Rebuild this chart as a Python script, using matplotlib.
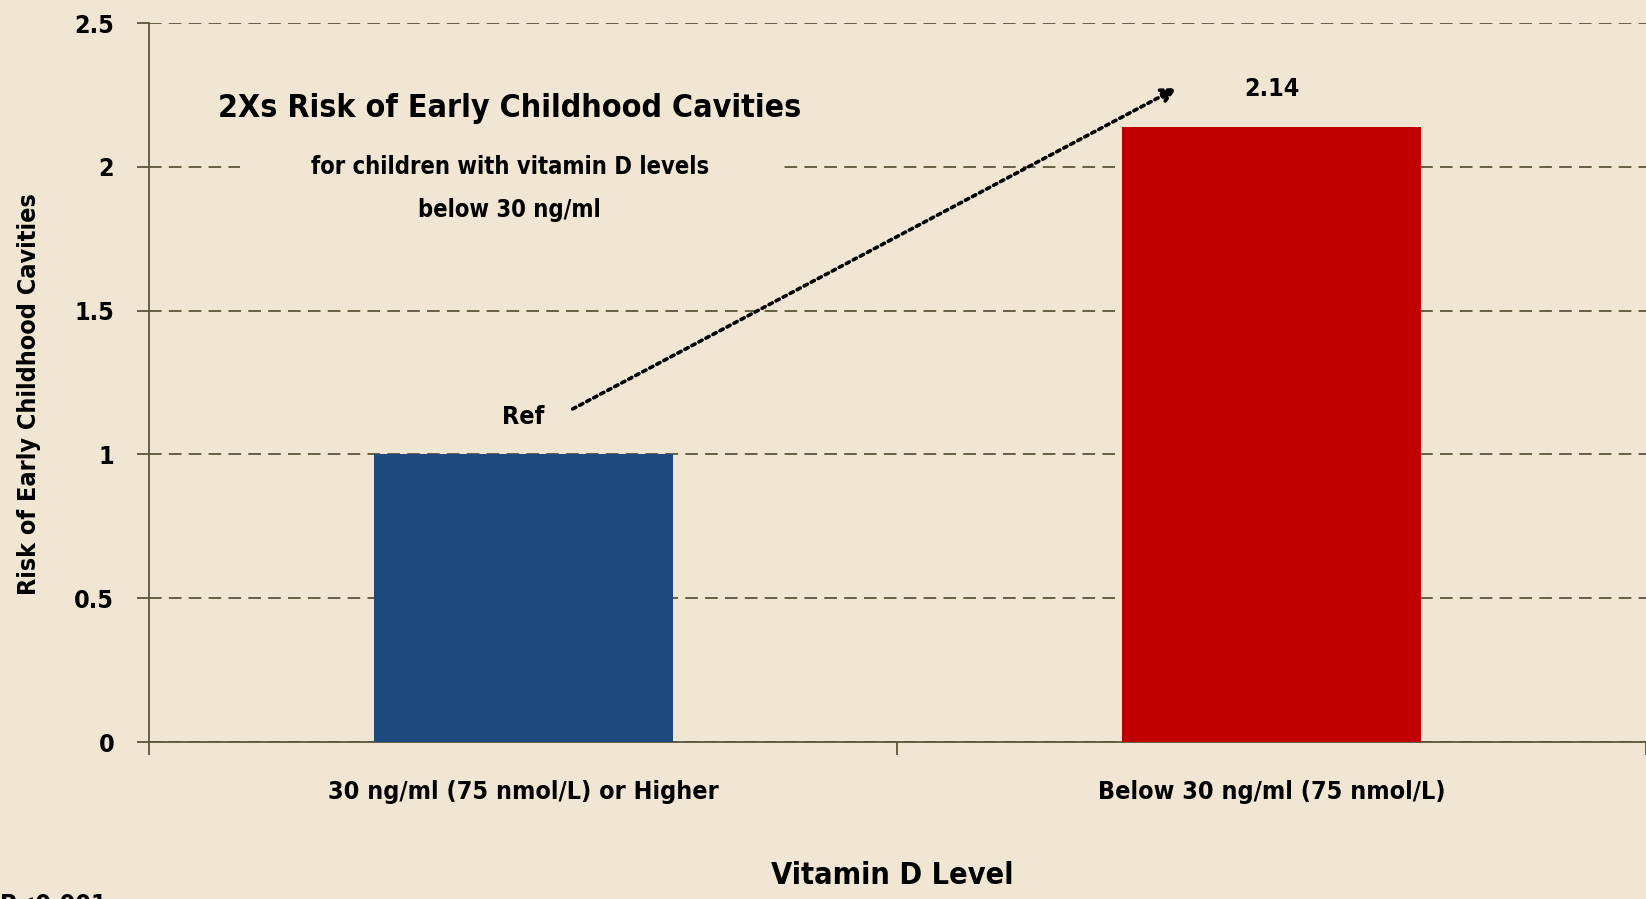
import matplotlib
matplotlib.use("Agg")
import matplotlib.pyplot as plt
from matplotlib import font_manager as fm

# data
categories = ["30 ng/ml (75 nmol/L) or Higher", "Below 30 ng/ml (75 nmol/L)"]
risk = [1.0, 2.14]
bar_labels = ["Ref", "2.14"]
bar_colors = ["#1F497D", "#C00000"]
yticks = [0, 0.5, 1, 1.5, 2, 2.5]
ytick_labels = ["0", "0.5", "1", "1.5", "2", "2.5"]

bg = "#F1E6D3"
olive = "#5B5439"

names = {f.name for f in fm.fontManager.ttflist}
fam = [n for n in ["Liberation Sans Narrow", "DejaVu Sans"] if n in names]
plt.rcParams['font.family'] = fam
plt.rcParams['font.weight'] = 'bold'
plt.rcParams['font.stretch'] = 'condensed'

fig = plt.figure(figsize=(16.46, 8.99), dpi=100, facecolor=bg)
ax = fig.add_axes([0.0905, 0.1746, 0.9095, 0.7998], facecolor=bg)

x = list(range(len(categories)))
ax.bar(x, risk, width=0.4, color=bar_colors, zorder=3)
ax.set_xlim(-0.5, 1.5)
ax.set_ylim(0, 2.5)

ax.set_yticks(yticks)
ax.set_yticklabels(ytick_labels, fontsize=18)
ax.set_xticks([-0.5, 0.5, 1.5])
ax.set_xticklabels([])
ax.set_xticks(x, minor=True)
ax.set_xticklabels(categories, minor=True, fontsize=18)
ax.tick_params(axis='x', which='minor', length=0, pad=27)
ax.tick_params(axis='x', which='major', length=9, width=1.3, color=olive)
ax.tick_params(axis='y', length=9, width=1.3, color=olive, pad=16)

ax.grid(axis='y', color=olive, linestyle=(0, (7, 4)), linewidth=1.3, zorder=1)
for s in ['top', 'right']:
    ax.spines[s].set_visible(False)
for s in ['left', 'bottom']:
    ax.spines[s].set_color(olive)
    ax.spines[s].set_linewidth(1.3)

fig.text(0.0176, 0.5617, "Risk of Early Childhood Cavities", rotation=90,
         ha='center', va='center', fontsize=18, fontweight='bold')
fig.text(0.542, 0.026, "Vitamin D Level", ha='center', va='center',
         fontsize=22, fontweight='bold')

# bar labels
for xi, v, lab in zip(x, risk, bar_labels):
    ax.text(xi, v + 0.13, lab, ha='center', va='center', fontsize=18, zorder=4)

# arrow
ax.annotate("", xy=(0.873, 2.274), xytext=(0.066, 1.158),
            arrowprops=dict(arrowstyle='-|>', linestyle=(0, (1, 1.2)),
                            lw=2.6, color='black', mutation_scale=22,
                            shrinkA=0, shrinkB=0), zorder=4)

# callout text
ax.text(-0.018, 1.923, "for children with vitamin D levels\nbelow 30 ng/ml",
        ha='center', va='center', fontsize=17, linespacing=2.0, zorder=4,
        bbox=dict(boxstyle='square,pad=3.0', fc=bg, ec='none'))
ax.text(-0.018, 2.204, "2Xs Risk of Early Childhood Cavities", ha='center',
        va='center', fontsize=23, zorder=5)

fig.text(0.0, 0.007, "P<0.001", ha='left', va='top', fontsize=18)

fig.savefig("out.png", dpi=100, facecolor=bg)
